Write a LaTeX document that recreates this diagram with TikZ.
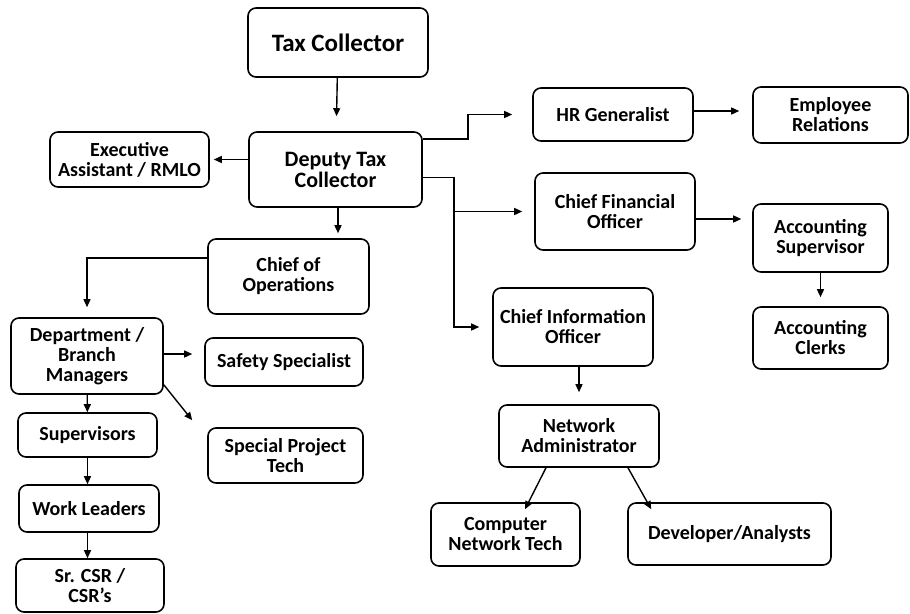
\documentclass[tikz,border=0pt]{standalone}
\usepackage{fontspec}
\setmainfont{Carlito}
\usetikzlibrary{arrows.meta}
\tikzset{
  box/.style={draw=black, line width=1.6pt, rounded corners=8pt, align=center, inner sep=0pt,
     font=\bfseries\fontsize{20}{20}\selectfont},
  arr/.style={draw=black, line width=1.4pt, -{Triangle[length=8pt,width=7pt]}},
  ln/.style={draw=black, line width=1.4pt}
}
\begin{document}
\begin{tikzpicture}[x=1pt,y=-1pt]
\useasboundingbox (0,0) rectangle (910,613);
\node[box, minimum width=180pt, minimum height=69pt, font=\bfseries\fontsize{25}{25}\selectfont] (tc) at (338,42.5) {Tax Collector};
\node[box, minimum width=173pt, minimum height=75pt, font=\bfseries\fontsize{22}{21}\selectfont] (dtc) at (335.5,169.5) {Deputy Tax\\Collector};
\node[box, minimum width=159pt, minimum height=55pt] (ea) at (129.5,159.5) {Executive\\Assistant / RMLO};
\node[box, minimum width=161pt, minimum height=75pt] (coo) at (288.5,276.5) {Chief of\\Operations};
\node[box, minimum width=152pt, minimum height=76pt] (dept) at (87,356) {Department /\\Branch\\Managers};
\node[box, minimum width=158pt, minimum height=48pt] (safety) at (284,362) {Safety Specialist};
\node[box, minimum width=155pt, minimum height=55pt] (spt) at (285.5,455.5) {Special Project\\Tech};
\node[box, minimum width=139pt, minimum height=44pt] (sup) at (87.5,435) {Supervisors};
\node[box, minimum width=140pt, minimum height=47pt] (wl) at (89,508.5) {Work Leaders};
\node[box, minimum width=148pt, minimum height=53pt] (csr) at (90,585.5) {Sr. CSR /\\CSR’s};
\node[box, minimum width=160pt, minimum height=53pt] (hr) at (613,114.5) {HR Generalist};
\node[box, minimum width=155pt, minimum height=56pt] (er) at (830.5,115) {Employee\\Relations};
\node[box, minimum width=160pt, minimum height=77pt] (cfo) at (615,211.5) {Chief Financial\\Officer};
\node[box, minimum width=135pt, minimum height=68pt] (as) at (820.5,238) {Accounting\\Supervisor};
\node[box, minimum width=135pt, minimum height=62pt] (ac) at (820.5,338) {Accounting\\Clerks};
\node[box, minimum width=160pt, minimum height=78pt] (cio) at (573,327) {Chief Information\\Officer};
\node[box, minimum width=160pt, minimum height=62pt] (na) at (579,436) {Network\\Administrator};
\node[box, minimum width=149pt, minimum height=63pt] (cnt) at (505.5,534.5) {Computer\\Network Tech};
\node[box, minimum width=203pt, minimum height=62pt] (dev) at (729.5,534) {Developer/Analysts};

\coordinate (hrbend) at (468,139);
\coordinate (bus) at (454,177);
\coordinate (cfojoin) at (454,211.5);

\draw[arr, shorten >=15pt] (tc) -- (dtc);
\draw[arr, shorten >=4pt] ([yshift=10]dtc.west) -- ([yshift=10]dtc.west -| ea.east);
\draw[arr, shorten >=5pt] ([xshift=2.5]dtc.south) -- ([xshift=2.5]dtc.south |- coo.north);
\draw[arr, shorten >=10pt] ([yshift=18.5]coo.west) -| (dept);
\draw[arr] ([yshift=2]dept.east) -- ([xshift=-12,yshift=8]safety.west);
\draw[arr] ([yshift=10]dept.south east) -- ([xshift=-15,yshift=7]spt.north west);
\draw[arr] (dept) -- (sup);
\draw[arr] (sup) -- (wl.north -| sup);
\draw[arr] (wl.south -| sup) -- (csr.north -| sup);

\draw[arr, shorten >=20pt] ([yshift=30.5]dtc.east) -- (hrbend) |- (hr);
\draw[arr, shorten >=13pt] ([yshift=3.5]hr.east) -- ([yshift=3.5]hr.east -| er.west);
\draw[ln, line width=1pt] ([yshift=-7.5]dtc.east) -- (bus);
\draw[arr, shorten >=13pt] (bus) |- (cio);
\draw[arr, shorten >=12pt] (cfojoin) -- (cfo);
\draw[arr, shorten >=11pt] ([yshift=-7.5]cfo.east) -- ([yshift=-7.5]cfo.east -| as.west);
\draw[arr, shorten >=9pt] (as) -- (ac);
\draw[arr, shorten >=12pt] ([xshift=6]cio.south) -- ([xshift=6]cio.south |- na.north);
\draw[arr] ([xshift=-33]na.south) -- ([xshift=19.5,yshift=-7]cnt.north);
\draw[arr] ([xshift=49]na.south) -- ([xshift=24,yshift=-7]dev.north west);
\end{tikzpicture}
\end{document}
